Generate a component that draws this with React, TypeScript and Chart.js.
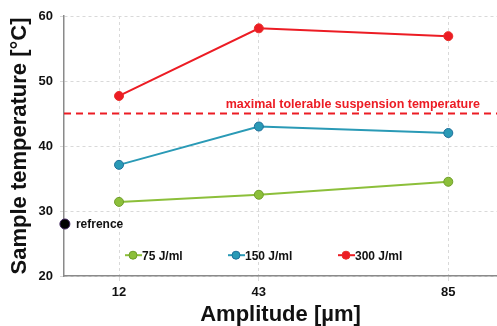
import React, { useEffect, useRef } from "react";
import { Chart, registerables } from "chart.js";
Chart.register(...registerables);

const amplitudes = [12, 43, 85];
const series75 = [31.4, 32.5, 34.5];
const series150 = [37.1, 43.0, 42.0];
const series300 = [47.7, 58.1, 56.9];
const seriesLabels = ["75 J/ml", "150 J/ml", "300 J/ml"];
const referenceX = 0;
const referenceY = 28;
const thresholdY = 45;
const thresholdLabel = "maximal tolerable suspension temperature";
const referenceLabel = "refrence";
const yTicks = [20, 30, 40, 50, 60];

const FONT = "'Liberation Sans', Arial, sans-serif";
const GREEN = "#8cbf3a";
const GREEN_B = "#6f9e2a";
const BLUE = "#2a9ab6";
const BLUE_B = "#1f6f9a";
const RED = "#ec1c24";
const RED_B = "#e8302a";

export default function App() {
  const ref = useRef<HTMLCanvasElement>(null);
  useEffect(() => {
    document.body.style.margin = "0";
    const canvas = ref.current!;
    const overlay = {
      id: "overlay",
      afterDatasetsDraw(chart: any) {
        const ctx = chart.ctx;
        const xs = chart.scales.x;
        const ys = chart.scales.y;
        const area = chart.chartArea;
        ctx.save();
        const ty = ys.getPixelForValue(thresholdY);
        ctx.strokeStyle = RED;
        ctx.lineWidth = 2;
        ctx.setLineDash([7, 5]);
        ctx.beginPath();
        ctx.moveTo(area.left, ty);
        ctx.lineTo(area.right, ty);
        ctx.stroke();
        ctx.setLineDash([]);
        ctx.fillStyle = RED;
        ctx.font = `bold 12.5px ${FONT}`;
        ctx.textAlign = "right";
        ctx.textBaseline = "alphabetic";
        ctx.fillText(thresholdLabel, 480, ty - 6);
        const rx = xs.getPixelForValue(referenceX);
        const ry = ys.getPixelForValue(referenceY);
        ctx.fillStyle = "#111";
        ctx.textAlign = "left";
        ctx.textBaseline = "middle";
        ctx.font = `bold 12px ${FONT}`;
        ctx.fillText(referenceLabel, rx + 11, ry + 1);
        const items = [
          { x: 125, c: GREEN, b: GREEN_B, t: seriesLabels[0] },
          { x: 228, c: BLUE, b: BLUE_B, t: seriesLabels[1] },
          { x: 338, c: RED, b: RED_B, t: seriesLabels[2] },
        ];
        const ly = ys.getPixelForValue(23.2);
        for (const it of items) {
          ctx.strokeStyle = it.c;
          ctx.lineWidth = 2;
          ctx.beginPath();
          ctx.moveTo(it.x, ly);
          ctx.lineTo(it.x + 17, ly);
          ctx.stroke();
          ctx.beginPath();
          ctx.arc(it.x + 8, ly, 4, 0, Math.PI * 2);
          ctx.fillStyle = it.c;
          ctx.fill();
          ctx.lineWidth = 1;
          ctx.strokeStyle = it.b;
          ctx.stroke();
          ctx.fillStyle = "#111";
          ctx.font = `bold 12px ${FONT}`;
          ctx.textAlign = "left";
          ctx.textBaseline = "middle";
          ctx.fillText(it.t, it.x + 17, ly + 1);
        }
        ctx.restore();
      },
    };
    const mk = (label: string, data: number[], c: string, b: string) => ({
      label,
      data: amplitudes.map((a, i) => ({ x: a, y: data[i] })),
      borderColor: c,
      backgroundColor: c,
      pointBorderColor: b,
      pointBackgroundColor: c,
      pointRadius: 4.5,
      pointBorderWidth: 1,
      borderWidth: 2,
      tension: 0,
    });
    const chart = new Chart(canvas, {
      type: "line",
      data: {
        datasets: [
          mk(seriesLabels[0], series75, GREEN, GREEN_B),
          mk(seriesLabels[1], series150, BLUE, BLUE_B),
          mk(seriesLabels[2], series300, RED, RED_B),
          {
            label: referenceLabel,
            data: [{ x: referenceX, y: referenceY }],
            borderColor: "#3a1f5a",
            backgroundColor: "#000",
            pointBackgroundColor: "#000",
            pointBorderColor: "#3a1f5a",
            pointRadius: 5,
            pointBorderWidth: 1,
            showLine: false,
            clip: false,
          } as any,
        ],
      },
      options: {
        animation: false,
        responsive: false,
        layout: { autoPadding: false, padding: { left: 0, right: 0, top: 16, bottom: 0 } },
        plugins: { legend: { display: false }, tooltip: { enabled: false } },
        scales: {
          x: {
            type: "linear",
            min: -0.2,
            max: 95.8,
            afterBuildTicks: (s: any) => {
              s.ticks = amplitudes.map((v) => ({ value: v }));
            },
            afterFit: (s: any) => {
              s.height = 50;
              s.paddingRight = 0;
              s.paddingLeft = 0;
            },
            ticks: {
              color: "#111",
              font: { family: FONT, size: 13, weight: "bold" },
              padding: 4,
            },
            grid: { color: "#d9d9d9", tickLength: 5, drawTicks: true },
            border: { color: "#8a8a8a", width: 1.5, dash: [3, 3] },
            title: {
              display: true,
              text: "Amplitude [µm]",
              color: "#111",
              font: { family: FONT, size: 22, weight: "bold", lineHeight: 1 },
              padding: { top: 0, bottom: 0 },
            },
          },
          y: {
            min: 20,
            max: 60,
            afterBuildTicks: (s: any) => {
              s.ticks = yTicks.map((v) => ({ value: v }));
            },
            afterFit: (s: any) => {
              s.width = 64;
            },
            ticks: {
              color: "#111",
              font: { family: FONT, size: 13, weight: "bold" },
              padding: 7,
            },
            grid: { color: "#d9d9d9", tickLength: 4 },
            border: { color: "#8a8a8a", width: 1.5, dash: [3, 3] },
            title: {
              display: true,
              text: "Sample temperature [°C]",
              color: "#111",
              font: { family: FONT, size: 22, weight: "bold" },
              padding: { top: 7, bottom: 0 },
            },
          },
        },
      },
      plugins: [overlay],
    });
    return () => chart.destroy();
  }, []);
  return <canvas ref={ref} width={497} height={326} style={{ display: "block" }} />;
}
